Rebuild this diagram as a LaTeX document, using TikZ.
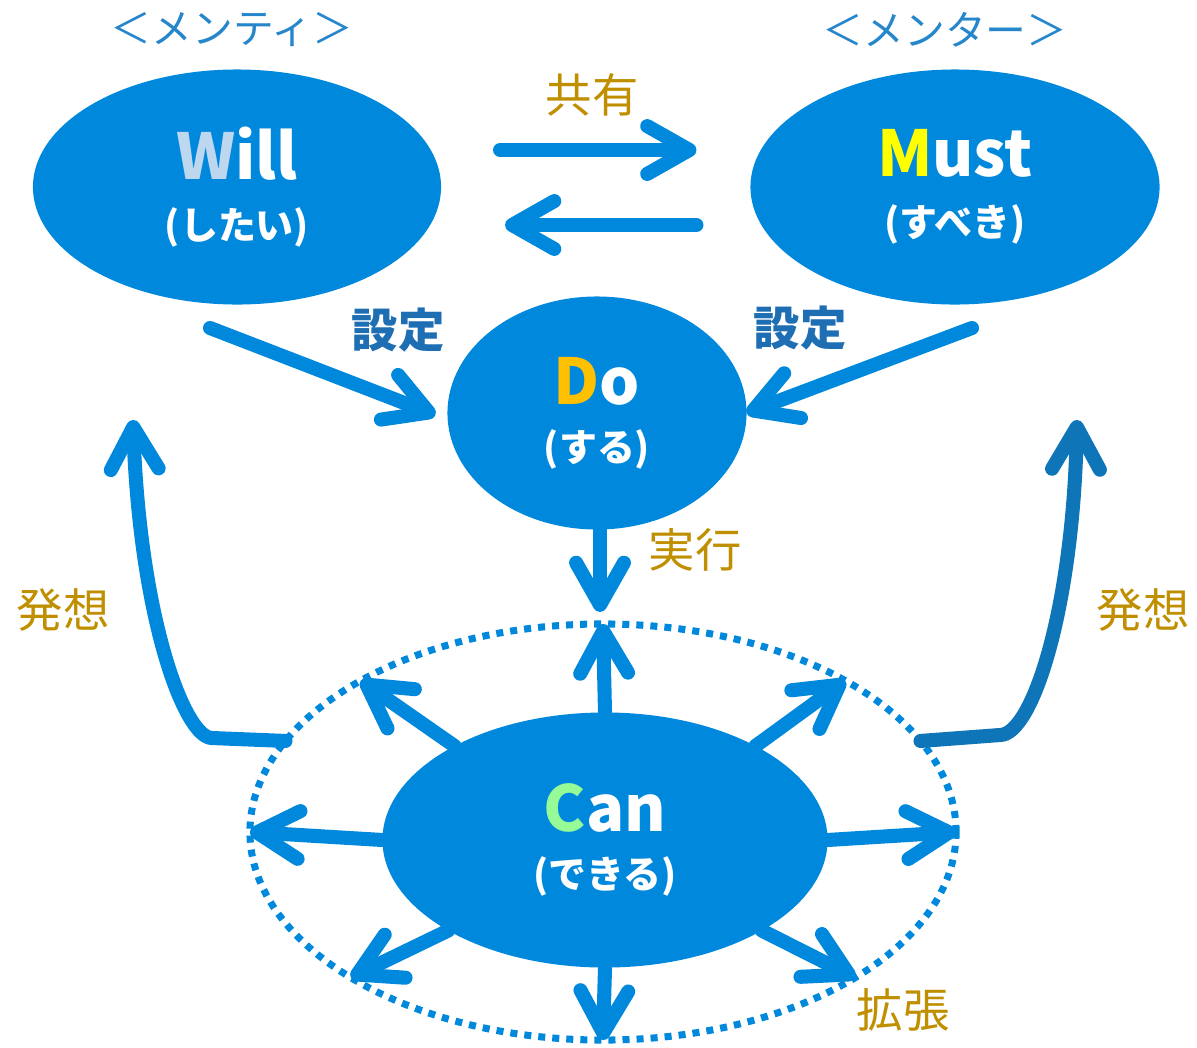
\documentclass[tikz,border=0pt]{standalone}
\usepackage{fontspec}
\setmainfont{Noto Sans CJK JP}
\usetikzlibrary{shapes.geometric,arrows.meta}

\definecolor{skyblue}{RGB}{0,136,221}
\definecolor{deepflow}{RGB}{15,117,185}
\definecolor{rolecol}{RGB}{38,134,204}
\definecolor{goldtext}{RGB}{191,143,0}
\definecolor{setcol}{RGB}{30,110,180}
\definecolor{wcol}{RGB}{189,215,238}
\definecolor{mcol}{RGB}{255,255,0}
\definecolor{dcol}{RGB}{255,192,0}
\definecolor{ccol}{RGB}{150,250,150}

\tikzset{
  bubble/.style={ellipse, fill=skyblue, text=white, inner sep=0pt, outer sep=0pt,
    align=center, font=\bfseries},
  flow/.style={draw=skyblue, line width=10pt, line cap=round, line join=round,
    -{Straight Barb[length=30pt,width=34pt,round]}},
  ring/.style={ellipse, draw=skyblue, line width=5pt, dash pattern=on 5pt off 5pt,
    inner sep=0pt, outer sep=0pt},
  role/.style={text=rolecol, font=\fontsize{29}{29}\selectfont},
  verb/.style={text=goldtext, font=\fontsize{33}{33}\selectfont},
  setlbl/.style={text=setcol, font=\bfseries\fontsize{33}{33}\selectfont}
}

\newcommand{\bigword}[2]{\fontsize{45}{45}\selectfont{\color{#1}#2}}
\newcommand{\smallword}[1]{\fontsize{27}{30}\selectfont #1}

\begin{document}
\begin{tikzpicture}[x=0.025cm,y=-0.025cm]
  \useasboundingbox (0,0) rectangle (1197,1047);

  \node[bubble,minimum width=10.2cm,minimum height=5.875cm] (will) at (237,187)
    {\bigword{wcol}{W}ill\\[18pt]\smallword{(したい)}};
  \node[bubble,minimum width=10.225cm,minimum height=5.875cm] (must) at (955,187)
    {\bigword{mcol}{M}ust\\[18pt]\smallword{(すべき)}};
  \node[bubble,minimum width=7.475cm,minimum height=5.825cm] (do) at (597,413)
    {\bigword{dcol}{D}o\\[16pt]\smallword{(する)}};
  \node[ring,minimum width=17.65cm,minimum height=10.4cm] (range) at (603,832) {};
  \node[bubble,minimum width=11.125cm,minimum height=6.375cm] (can) at (605,840)
    {\bigword{ccol}{C}an\\[16pt]\smallword{(できる)}};

  \node[role] (mentee) at (232,30) {＜メンティ＞};
  \node[role] (mentor) at (945,30) {＜メンター＞};
  \node[verb] (share) at (592,95) {共有};
  \node[setlbl] (setl) at (398,330) {設定};
  \node[setlbl] (setr) at (800,328) {設定};
  \node[verb] (act) at (695,550) {実行};
  \node[verb] (ideal) at (63,610) {発想};
  \node[verb] (idear) at (1143,610) {発想};
  \node[verb] (grow) at (903,1010) {拡張};

  \coordinate (willout) at (210,328);
  \coordinate (mustout) at (972,328);
  \coordinate (willtop) at (133,420);
  \coordinate (musttop) at (1077,420);

  % will <-> must
  \draw[flow] ([shift={(59,-37)}]will.east) -- ([shift={(-54,-37)}]must.west);
  \draw[flow] ([shift={(-54,38)}]must.west) -- ([shift={(64,38)}]will.east);

  % set the goal
  \draw[flow] (willout) -- ([shift={(-12,2)}]do.west);
  \draw[flow] (mustout) -- (do.east);
  \draw[flow] ([shift={(3,0)}]do.south) -- ([shift={(-3,-12)}]range.north);

  % spread out
  \foreach \a in {0,32,90,148,180,210,270,330}
    \draw[flow] (can.\a) -- (range.\a);

  \draw[flow] (range.164) -- (212,738) .. controls (185,738) and (140,620) .. (willtop);
  \draw[flow,draw=deepflow] (range.16.5) -- (1000,735) .. controls (1032,735) and (1073,610) .. (musttop);
\end{tikzpicture}
\end{document}
